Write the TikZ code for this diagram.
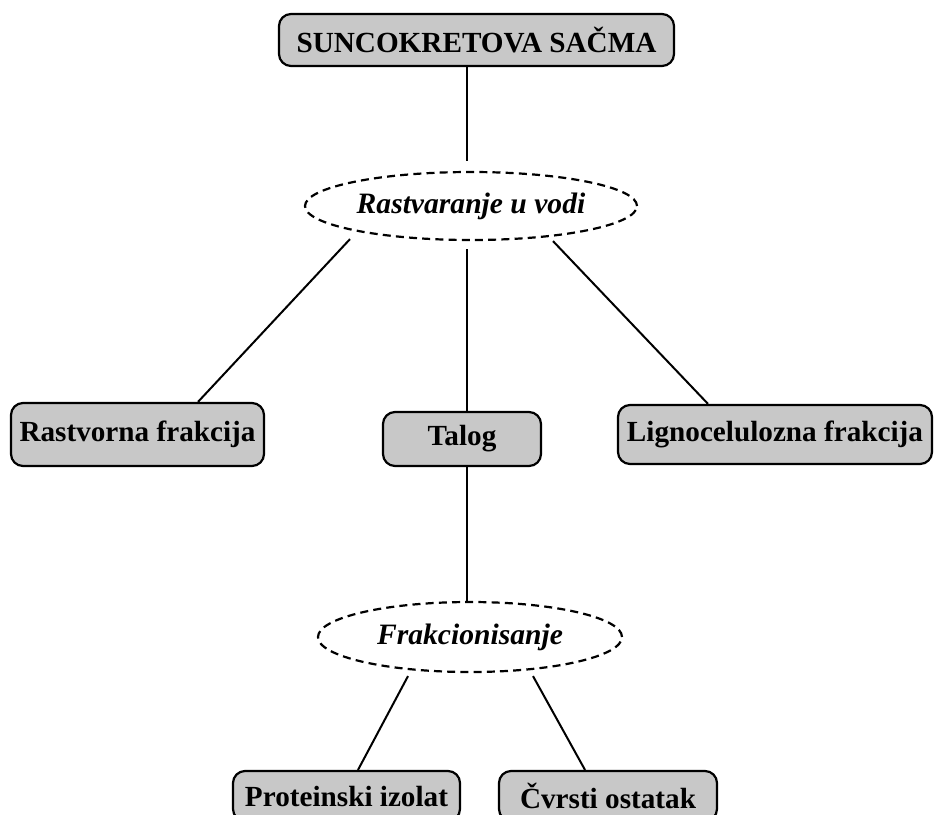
\documentclass[tikz,border=0pt]{standalone}
\usepackage{fontspec}
\setmainfont{Liberation Serif}
\usetikzlibrary{shapes.geometric}

\definecolor{boxgray}{RGB}{200,200,200}

\tikzset{
  proizvod/.style={draw, line width=1.1pt, fill=boxgray, rounded corners=6pt,
    inner sep=0pt, font=\bfseries\fontsize{14.6}{17}\selectfont},
  postupak/.style={ellipse, draw, line width=1.1pt, dash pattern=on 4pt off 2.6pt,
    inner sep=0pt, font=\bfseries\itshape\fontsize{14.8}{18}\selectfont},
  veza/.style={line width=1pt}
}

\begin{document}
\begin{tikzpicture}[x=0.5pt,y=-0.5pt]
  \useasboundingbox (0,0) rectangle (936,814);
  \coordinate (osa) at (467,0);

  % sirovina i prvi korak
  \node[proizvod, minimum width=197.5pt, minimum height=26pt] (sacma) at (476.5,40) {SUNCOKRETOVA SAČMA};
  \node[postupak, minimum width=166pt, minimum height=34pt] (rastvaranje) at (471,206) {Rastvaranje u vodi};

  % frakcije
  \node[proizvod, minimum width=126.5pt, minimum height=31.5pt] (rastvorna) at (137.5,434.5) {Rastvorna frakcija};
  \node[proizvod, minimum width=79pt, minimum height=27pt] (talog) at (462,439) {Talog};
  \node[proizvod, minimum width=157pt, minimum height=29.5pt] (ligno) at (775,434.5) {Lignocelulozna frakcija};

  % drugi korak
  \node[postupak, minimum width=152pt, minimum height=35pt] (frakcionisanje) at (470,637) {Frakcionisanje};
  \node[proizvod, minimum width=113.5pt, minimum height=25pt] (izolat) at (346.5,796) {Proteinski izolat};
  \node[proizvod, minimum width=109pt, minimum height=25pt] (ostatak) at (608,796) {Čvrsti ostatak};

  \draw[veza, shorten >=5pt] (sacma.south -| osa) -- (rastvaranje.north -| osa);
  \draw[veza] ([xshift=-60.5pt,yshift=1pt]rastvaranje.south) -- ([xshift=30.25pt]rastvorna.north);
  \draw[veza, shorten <=4pt] (rastvaranje.south -| osa) -- (talog.north -| osa);
  \draw[veza] ([xshift=41pt]rastvaranje.south) -- ([xshift=-33.5pt]ligno.north);
  \draw[veza] (talog.south -| osa) -- (frakcionisanje.north -| osa);
  \draw[veza] ([xshift=-31pt,yshift=-1.5pt]frakcionisanje.south) -- ([xshift=5.75pt]izolat.north);
  \draw[veza] ([xshift=31.5pt,yshift=-1.5pt]frakcionisanje.south) -- ([xshift=-11.5pt]ostatak.north);
\end{tikzpicture}
\end{document}
